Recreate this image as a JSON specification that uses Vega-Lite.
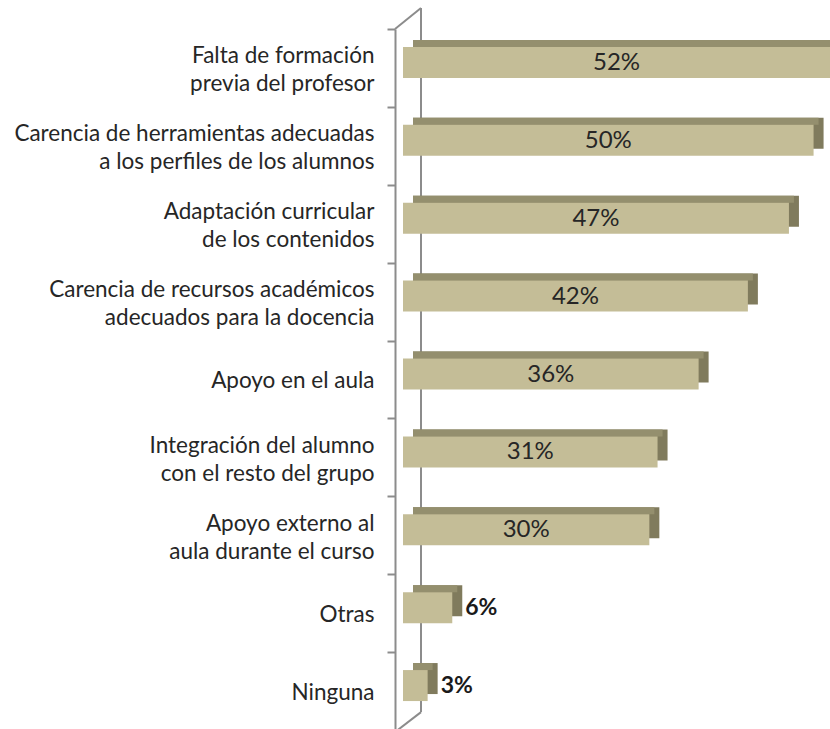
{
  "$schema": "https://vega.github.io/schema/vega-lite/v6.json",
  "width": 427,
  "height": 701,
  "autosize": {"type": "none"},
  "padding": {"left": 403, "top": 29, "right": 0, "bottom": 0},
  "background": "white",
  "config": {
    "view": {"stroke": null},
    "font": "Lato",
    "scale": {"bandPaddingInner": 0, "bandPaddingOuter": 0},
    "axisY": {
      "domainColor": "#8C8C8C",
      "domainWidth": 2,
      "tickColor": "#8C8C8C",
      "tickWidth": 2,
      "tickSize": 8,
      "tickBand": "extent",
      "offset": 8,
      "labelPadding": 13,
      "labelFont": "Lato",
      "labelFontSize": 22.5,
      "labelColor": "#262626",
      "labelLineHeight": 28,
      "labelLimit": 400,
      "labelExpr": "split(datum.label, '\\n')",
      "grid": false,
      "title": null
    }
  },
  "data": {
    "values": [
      {"cat": "Falta de formación\nprevia del profesor", "v": 0.52},
      {"cat": "Carencia de herramientas adecuadas\na los perfiles de los alumnos", "v": 0.50},
      {"cat": "Adaptación curricular\nde los contenidos", "v": 0.47},
      {"cat": "Carencia de recursos académicos\nadecuados para la docencia", "v": 0.42},
      {"cat": "Apoyo en el aula", "v": 0.36},
      {"cat": "Integración del alumno\ncon el resto del grupo", "v": 0.31},
      {"cat": "Apoyo externo al\naula durante el curso", "v": 0.30},
      {"cat": "Otras", "v": 0.06},
      {"cat": "Ninguna", "v": 0.03}
    ]
  },
  "resolve": {"scale": {"x": "independent"}},
  "layer": [
    {
      "data": {"values": [{}]},
      "mark": {"type": "rule", "color": "#8C8C8C", "strokeWidth": 2, "xOffset": 18, "yOffset": -21, "y2Offset": 60},
      "encoding": {
        "x": {"datum": 0, "type": "quantitative", "scale": {"domain": [0, 0.52]}, "axis": null},
        "y": {"datum": "Falta de formación\nprevia del profesor", "type": "nominal", "bandPosition": 0, "title": null,
          "axis": {"labelOffset": {"condition": {"test": "indexof(datum.label, '\\n') >= 0", "value": -12}, "value": 1}},
          "scale": {"domain": [
            "Falta de formación\nprevia del profesor",
            "Carencia de herramientas adecuadas\na los perfiles de los alumnos",
            "Adaptación curricular\nde los contenidos",
            "Carencia de recursos académicos\nadecuados para la docencia",
            "Apoyo en el aula",
            "Integración del alumno\ncon el resto del grupo",
            "Apoyo externo al\naula durante el curso",
            "Otras",
            "Ninguna"]}},
        "y2": {"datum": "Ninguna", "bandPosition": 0}
      }
    },
    {
      "data": {"values": [{}]},
      "mark": {"type": "rule", "color": "#8C8C8C", "strokeWidth": 2, "xOffset": -8, "x2Offset": 18, "yOffset": 0, "y2Offset": -21},
      "encoding": {
        "x": {"datum": 0, "type": "quantitative", "scale": {"domain": [0, 0.52]}, "axis": null},
        "x2": {"datum": 0},
        "y": {"datum": "Falta de formación\nprevia del profesor", "type": "nominal", "bandPosition": 0, "title": null},
        "y2": {"datum": "Falta de formación\nprevia del profesor", "bandPosition": 0}
      }
    },
    {
      "data": {"values": [{}]},
      "mark": {"type": "rule", "color": "#8C8C8C", "strokeWidth": 2, "xOffset": 18, "x2Offset": -8, "yOffset": 60, "y2Offset": 80},
      "encoding": {
        "x": {"datum": 0, "type": "quantitative", "scale": {"domain": [0, 0.52]}, "axis": null},
        "x2": {"datum": 0},
        "y": {"datum": "Ninguna", "type": "nominal", "bandPosition": 0, "title": null},
        "y2": {"datum": "Ninguna", "bandPosition": 0}
      }
    },
    {
      "mark": {"type": "bar", "color": "#807B5D", "height": 31, "xOffset": 10, "x2Offset": 10, "yOffset": -12.5},
      "encoding": {
        "x": {"field": "v", "type": "quantitative", "scale": {"domain": [0, 0.52], "nice": false}, "axis": null},
        "x2": {"datum": 0},
        "y": {"field": "cat", "type": "nominal", "sort": null, "title": null}
      }
    },
    {
      "mark": {"type": "bar", "color": "#948F6E", "height": 7, "xOffset": 5, "x2Offset": 10, "yOffset": -24.5},
      "encoding": {
        "x": {"field": "v", "type": "quantitative", "scale": {"domain": [0, 0.52], "nice": false}, "axis": null},
        "x2": {"datum": 0},
        "y": {"field": "cat", "type": "nominal", "sort": null, "title": null}
      }
    },
    {
      "mark": {"type": "bar", "color": "#C4BD97", "height": 31, "yOffset": -5.5},
      "encoding": {
        "x": {"field": "v", "type": "quantitative", "scale": {"domain": [0, 0.52], "nice": false}, "axis": null},
        "x2": {"datum": 0},
        "y": {"field": "cat", "type": "nominal", "sort": null, "title": null}
      }
    },
    {
      "transform": [{"filter": "datum.v >= 0.1"}],
      "mark": {"type": "text", "font": "Lato", "fontSize": 24, "color": "#262626", "align": "center", "baseline": "middle", "yOffset": -5},
      "encoding": {
        "x": {"field": "v", "type": "quantitative", "scale": {"domain": [0, 0.52], "range": [0, 213.5], "nice": false}, "axis": null},
        "y": {"field": "cat", "type": "nominal", "sort": null, "title": null},
        "text": {"field": "v", "type": "quantitative", "format": ".0%"}
      }
    },
    {
      "transform": [{"filter": "datum.v < 0.1"}],
      "mark": {"type": "text", "font": "Lato", "fontSize": 23, "fontWeight": "bold", "color": "#1a1a1a", "align": "left", "baseline": "middle", "dx": 13, "yOffset": -5},
      "encoding": {
        "x": {"field": "v", "type": "quantitative", "scale": {"domain": [0, 0.52], "nice": false}, "axis": null},
        "y": {"field": "cat", "type": "nominal", "sort": null, "title": null},
        "text": {"field": "v", "type": "quantitative", "format": ".0%"}
      }
    }
  ]
}
